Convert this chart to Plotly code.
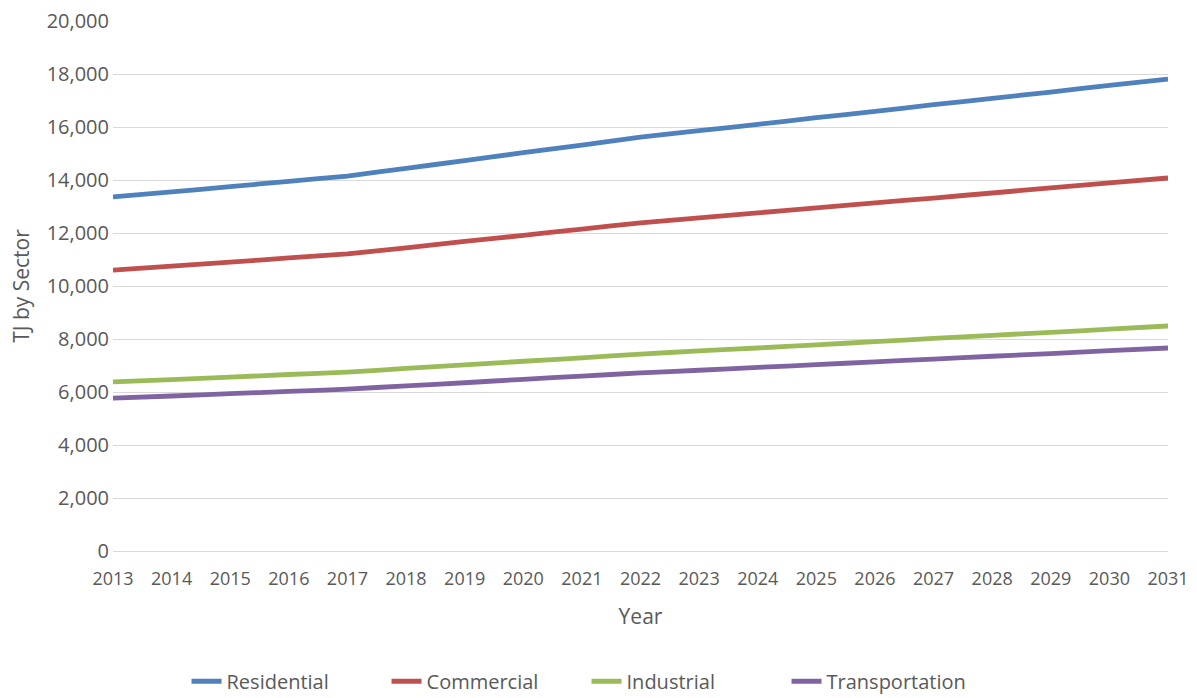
import plotly.graph_objects as go

years = list(range(2013, 2032))
residential = [13360, 13550, 13750, 13950, 14150, 14440, 14730, 15030, 15320, 15620,
               15860, 16100, 16350, 16590, 16840, 17080, 17320, 17570, 17810]
commercial = [10600, 10750, 10900, 11060, 11210, 11440, 11680, 11910, 12150, 12380,
              12570, 12760, 12950, 13140, 13320, 13510, 13700, 13890, 14075]
industrial = [6380, 6470, 6560, 6660, 6750, 6890, 7020, 7160, 7290, 7430,
              7550, 7660, 7780, 7900, 8020, 8140, 8250, 8370, 8490]
transportation = [5770, 5850, 5940, 6020, 6110, 6230, 6350, 6480, 6600, 6720,
                  6820, 6930, 7030, 7140, 7240, 7350, 7450, 7560, 7660]

series = [
    ("Residential", residential, "#4F81BD"),
    ("Commercial", commercial, "#C0504D"),
    ("Industrial", industrial, "#9BBB59"),
    ("Transportation", transportation, "#8064A2"),
]

FONT = "Open Sans"
TXT = "#595959"

fig = go.Figure()
for name, vals, col in series:
    fig.add_trace(go.Scatter(x=years, y=vals, name=name, mode="lines",
                             line=dict(color=col, width=4.8, shape="spline", smoothing=0.3)))

fig.update_layout(
    width=1197, height=698,
    margin=dict(l=113, r=29, t=21, b=147, autoexpand=False),
    paper_bgcolor="white", plot_bgcolor="white",
    font=dict(family=FONT, color=TXT, size=18),
    showlegend=True,
    legend=dict(orientation="h", xref="container", yref="container",
                x=0.49, xanchor="center", y=0.024, yanchor="middle",
                font=dict(family=FONT, size=20, color=TXT),
                entrywidth=155, entrywidthmode="pixels",
                tracegroupgap=0, traceorder="normal"),
    xaxis=dict(range=[2013, 2031], tickmode="array", tickvals=years,
               ticktext=[str(y) for y in years], showgrid=False, zeroline=False,
               showline=False, ticks="", ticklabelstandoff=15, automargin=False,
               tickfont=dict(family=FONT, size=18, color=TXT),
               title=dict(text="Year", font=dict(family=FONT, size=21, color=TXT), standoff=20)),
    yaxis=dict(range=[0, 20000], tickmode="array",
               tickvals=list(range(0, 20001, 2000)),
               tickformat=",d", showgrid=True, gridcolor="#D9D9D9", gridwidth=1.3,
               zeroline=True, zerolinecolor="#D9D9D9", zerolinewidth=1.3,
               showline=False, ticks="", ticklabelstandoff=3, automargin=False,
               tickfont=dict(family=FONT, size=20, color=TXT),
               title=dict(text="TJ by Sector", font=dict(family=FONT, size=21, color=TXT), standoff=11)),
)

fig.write_html("out.html")
